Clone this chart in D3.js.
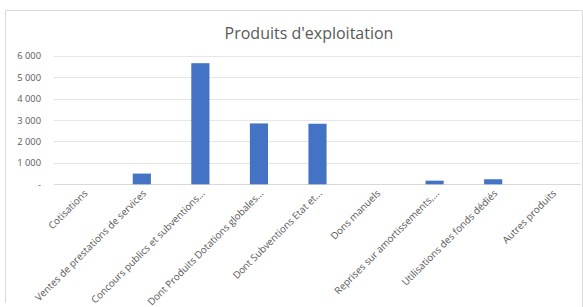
<!DOCTYPE html>
<html>
<head>
<meta charset="utf-8">
<script src="https://cdn.jsdelivr.net/npm/d3@7"></script>
<style>
  body { margin: 0; background: #fff; }
  text { font-family: "Open Sans", "Noto Sans", sans-serif; fill: #595959; }
</style>
</head>
<body>
<svg id="chart" width="583" height="307"></svg>
<script>
var categories = [
  'Cotisations',
  'Ventes de prestations de services',
  'Concours publics et subventions...',
  'Dont Produits Dotations globales...',
  'Dont Subventions Etat et...',
  'Dons manuels',
  'Reprises sur amortissements,...',
  'Utilisations des fonds dédiés',
  'Autres produits'
];
var values = [0, 500, 5650, 2840, 2825, 0, 170, 235, 0];
var yTicks = [0, 1000, 2000, 3000, 4000, 5000, 6000];

var svg = d3.select('#chart');

// chart frame (bottom edge is cut off)
svg.append('path')
  .attr('d', 'M5.5,303 V10.5 H582.5 V307')
  .attr('fill', 'none')
  .attr('stroke', '#d9d9d9');

svg.append('text')
  .attr('x', 309)
  .attr('y', 39)
  .attr('text-anchor', 'middle')
  .style('font-size', '16px')
  .text("Produits d'exploitation");

var x = d3.scaleBand()
  .domain(categories)
  .range([54, 581])
  .paddingInner(0.69)
  .paddingOuter(0.345);

var y = d3.scaleLinear()
  .domain([0, 6000])
  .range([184.3, 55.7]);

var fmt = function(d) {
  return d === 0 ? '-' : d3.format(',')(d).replace(/,/g, ' ');
};

// grid
svg.append('g')
  .selectAll('line')
  .data(yTicks)
  .join('line')
    .attr('x1', 54)
    .attr('x2', 581)
    .attr('y1', function(d) { return Math.round(y(d)) + 0.5; })
    .attr('y2', function(d) { return Math.round(y(d)) + 0.5; })
    .attr('stroke', function(d) { return d === 0 ? '#d9d9d9' : '#e6e6e6'; })
    .attr('stroke-width', 1);

svg.append('g')
  .selectAll('text')
  .data(yTicks)
  .join('text')
    .attr('x', 41)
    .attr('y', function(d) { return y(d) + 3.5; })
    .attr('text-anchor', 'end')
    .style('font-size', '9.3px')
    .text(fmt);

// bars
svg.append('g')
  .selectAll('rect')
  .data(values)
  .join('rect')
    .attr('x', function(d, i) { return x(categories[i]); })
    .attr('y', function(d) { return y(d); })
    .attr('width', x.bandwidth())
    .attr('height', function(d) { return y(0) - y(d); })
    .attr('fill', '#4472c4');

// category labels
svg.append('g')
  .selectAll('text')
  .data(categories)
  .join('text')
    .attr('text-anchor', 'end')
    .attr('transform', function(d) {
      var cx = x(d) + x.bandwidth() / 2 + 5;
      return 'translate(' + cx + ',194) rotate(-45)';
    })
    .style('font-size', '9.8px')
    .text(function(d) { return d; });
</script>
</body>
</html>
